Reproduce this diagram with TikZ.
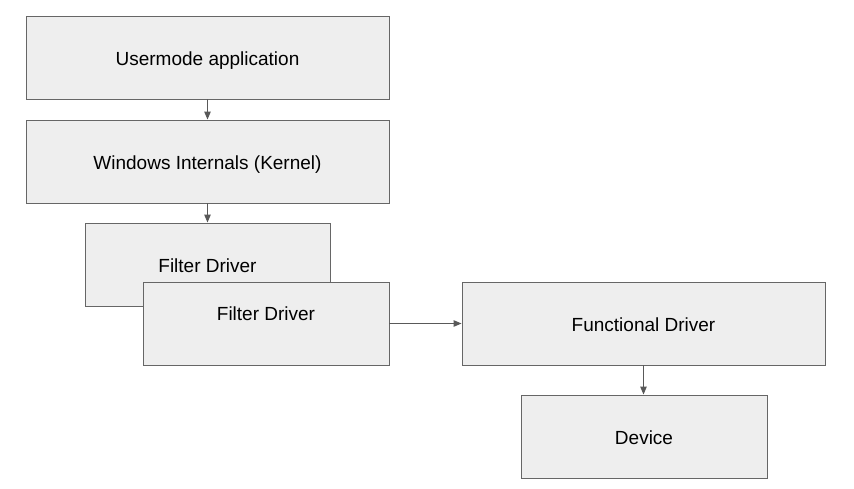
\documentclass[tikz,border=0pt]{standalone}
\usepackage{fontspec}
\setmainfont{Liberation Sans}
\usetikzlibrary{arrows.meta}
\definecolor{boxfill}{HTML}{EEEEEE}
\definecolor{boxline}{HTML}{666666}
\definecolor{arrowc}{HTML}{595959}
\begin{document}
\begin{tikzpicture}[x=1pt,y=-1pt,
  lbl/.style={font=\fontsize{19}{23}\selectfont,text height=15.4pt,text depth=0pt},
  blk/.style={lbl,draw=boxline,fill=boxfill,line width=0.9pt,inner sep=0pt},
  conn/.style={draw=arrowc,line width=1pt,-{Triangle[length=8pt,width=6.5pt]}}]
\useasboundingbox (0,0) rectangle (854,489);
\fill[white] (0,0) rectangle (854,489);
\node[blk,minimum width=363pt,minimum height=83pt] (ua) at (207.5,57.5) {Usermode application};
\node[blk,minimum width=363pt,minimum height=83pt] (wk) at (207.5,161.5) {Windows Internals (Kernel)};
\node[blk,minimum width=245pt,minimum height=83pt] (fd1) at (207.5,264.5) {Filter Driver};
\node[blk,minimum width=246pt,minimum height=83pt] (fd2) at (266,323.5) {};
\node[lbl,inner sep=0pt] (fd2t) at (266,313) {Filter Driver};
\node[blk,minimum width=363pt,minimum height=83pt] (fn) at (643.5,323.5) {Functional Driver};
\node[blk,minimum width=246pt,minimum height=83pt] (dev) at (644,436.5) {Device};
\draw[conn] (ua.south) -- (wk.north);
\draw[conn] (wk.south) -- (fd1.north);
\draw[conn] (fd2.east) -- (fn.west);
\draw[conn] (fn.south) -- (fn.south |- dev.north);
\end{tikzpicture}
\end{document}
